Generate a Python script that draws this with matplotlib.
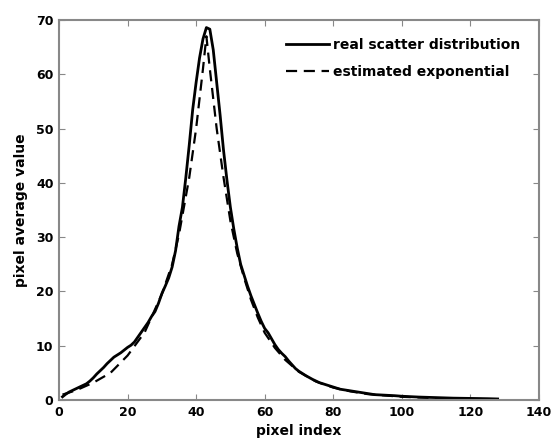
import matplotlib
matplotlib.use('Agg')
import matplotlib.pyplot as plt

plt.rcParams['font.family'] = ['DejaVu Sans']
plt.rcParams['font.weight'] = 'bold'

# real scatter distribution
x_real = [1, 2, 3, 4, 5, 6, 7, 8, 9, 10, 11, 12, 13, 14, 15, 16, 17, 18, 19, 20,
          21, 22, 23, 24, 25, 26, 27, 28, 29, 30, 31, 32, 33, 34, 35, 36, 37, 38, 39, 40,
          41, 42, 43, 44, 45, 46, 47, 48, 49, 50, 51, 52, 53, 54, 55, 56, 57, 58, 59, 60,
          61, 62, 63, 64, 65, 66, 67, 68, 69, 70, 72, 74, 76, 78, 80, 82, 84, 86, 88, 90,
          92, 95, 98, 100, 105, 110, 115, 120, 125, 128]
y_real = [0.6, 1.1, 1.5, 1.8, 2.1, 2.4, 2.7, 3.0, 3.5, 4.1, 4.8, 5.4, 6.0, 6.7, 7.3, 7.9, 8.3, 8.7, 9.2, 9.7,
          10.1, 10.7, 11.6, 12.5, 13.4, 14.3, 15.4, 16.3, 17.8, 19.6, 21.0, 22.5, 24.5, 27.5, 32.0, 35.5, 41.0, 47.0, 53.5, 58.5,
          63.0, 66.5, 68.6, 68.3, 64.5, 58.5, 52.5, 46.0, 40.5, 35.5, 31.5, 28.0, 25.0, 23.0, 21.0, 19.2, 17.6, 16.0, 14.5, 13.2,
          12.4, 11.3, 10.2, 9.3, 8.6, 8.0, 7.2, 6.5, 5.8, 5.3, 4.5, 3.8, 3.2, 2.8, 2.4, 2.0, 1.8, 1.6, 1.4, 1.2,
          1.0, 0.9, 0.8, 0.7, 0.55, 0.45, 0.35, 0.3, 0.25, 0.2]

# estimated exponential
x_est = [1, 5, 10, 15, 20, 25, 30, 33, 35, 38, 40, 42, 43, 44, 46, 48, 50, 52, 54, 56,
         58, 60, 63, 66, 70, 75, 80, 85, 90, 100, 110, 120, 128]
y_est = [1.0, 1.8, 3.2, 5.0, 8.2, 12.5, 19.5, 25.0, 30.5, 41.0, 50.0, 61.0, 67.0, 61.0, 50.0, 41.0, 33.0, 27.0, 22.5, 18.5,
         15.2, 12.4, 9.6, 7.4, 5.2, 3.4, 2.3, 1.6, 1.1, 0.6, 0.35, 0.2, 0.15]

fig = plt.figure(figsize=(5.52, 4.44), dpi=100)
ax = fig.add_axes([0.107, 0.099, 0.869, 0.856])

ax.plot(x_real, y_real, 'k-', lw=2, label='real scatter distribution')
ax.plot(x_est, y_est, 'k--', lw=1.6, dashes=(5, 3), label='estimated exponential')

ax.set_xlim(0, 140)
ax.set_ylim(0, 70)
ax.set_xticks(range(0, 141, 20))
ax.set_yticks(range(0, 71, 10))
ax.tick_params(direction='in', top=True, right=True, labelsize=9, color='#888888', length=4, pad=4)
for s in ax.spines.values():
    s.set_color('#888888')
    s.set_linewidth(1.5)
for lab in ax.get_xticklabels() + ax.get_yticklabels():
    lab.set_fontweight('bold')

ax.set_xlabel('pixel index', fontsize=10, fontweight='bold', labelpad=4)
ax.set_ylabel('pixel average value', fontsize=10, fontweight='bold', labelpad=6)

leg = ax.legend(loc='upper right', frameon=False, fontsize=10, handlelength=3.1,
                handletextpad=0.3, borderaxespad=0.9, labelspacing=0.95)
for t in leg.get_texts():
    t.set_fontweight('bold')

fig.savefig('out.png', dpi=100)
